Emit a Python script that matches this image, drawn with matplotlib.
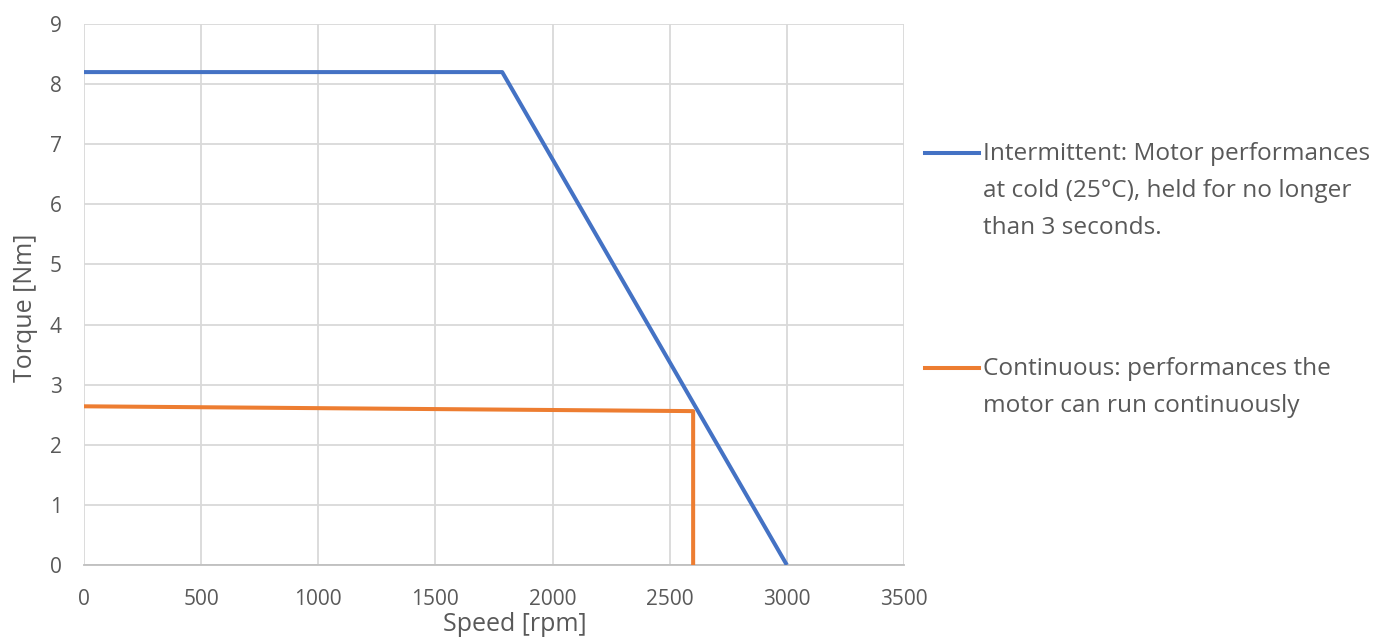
import matplotlib.pyplot as plt

# Data
intermittent_speed = [0, 1785, 3000]
intermittent_torque = [8.2, 8.2, 0]
continuous_speed = [0, 2600, 2600]
continuous_torque = [2.64, 2.56, 0]

intermittent_label = "Intermittent: Motor performances\nat cold (25°C), held for no longer\nthan 3 seconds."
continuous_label = "Continuous: performances the\nmotor can run continuously"

x_ticks = [0, 500, 1000, 1500, 2000, 2500, 3000, 3500]
y_ticks = [0, 1, 2, 3, 4, 5, 6, 7, 8, 9]

blue = '#4472C4'
orange = '#ED7D31'
txt = '#595959'

plt.rcParams['font.family'] = ['Open Sans', 'DejaVu Sans']

fig = plt.figure(figsize=(13.97, 6.39), dpi=100)
ax = fig.add_axes([84 / 1397, 1 - 565 / 639, (904 - 84) / 1397, (565 - 24) / 639])

ax.plot(intermittent_speed, intermittent_torque, color=blue, lw=2.9, solid_capstyle='butt', zorder=3)
ax.plot(continuous_speed, continuous_torque, color=orange, lw=2.9, solid_capstyle='butt', zorder=3)

ax.set_xlim(0, 3500)
ax.set_ylim(0, 9)
ax.set_xticks(x_ticks)
ax.set_yticks(y_ticks)
ax.grid(True, color='#d9d9d9', lw=1.3)
ax.set_axisbelow(True)
for s in ['top', 'right', 'left']:
    ax.spines[s].set_visible(False)
ax.spines['bottom'].set_color('#bfbfbf')
ax.spines['bottom'].set_linewidth(1.3)
ax.tick_params(length=0, labelsize=15, labelcolor=txt)
ax.tick_params(axis='x', pad=17)
ax.tick_params(axis='y', pad=16)

fig.text(515 / 1397, 1 - 631 / 639, 'Speed [rpm]', ha='center', va='baseline', fontsize=18, color=txt)
fig.text(26 / 1397, 1 - 308 / 639, 'Torque [Nm]', ha='center', va='center', rotation=90, fontsize=18, color=txt)

# legend drawn by hand to the right of the plot
for y_px, col, lab in [(153, blue, intermittent_label), (368, orange, continuous_label)]:
    yy = 1 - y_px / 639
    fig.add_artist(plt.Line2D([925 / 1397, 979 / 1397], [yy, yy], color=col, lw=2.9,
                              transform=fig.transFigure))
    fig.text(983 / 1397, 1 - (y_px - 11) / 639, lab, ha='left', va='top', fontsize=17.6,
             color=txt, linespacing=1.72)

fig.savefig('out.png', dpi=100)
